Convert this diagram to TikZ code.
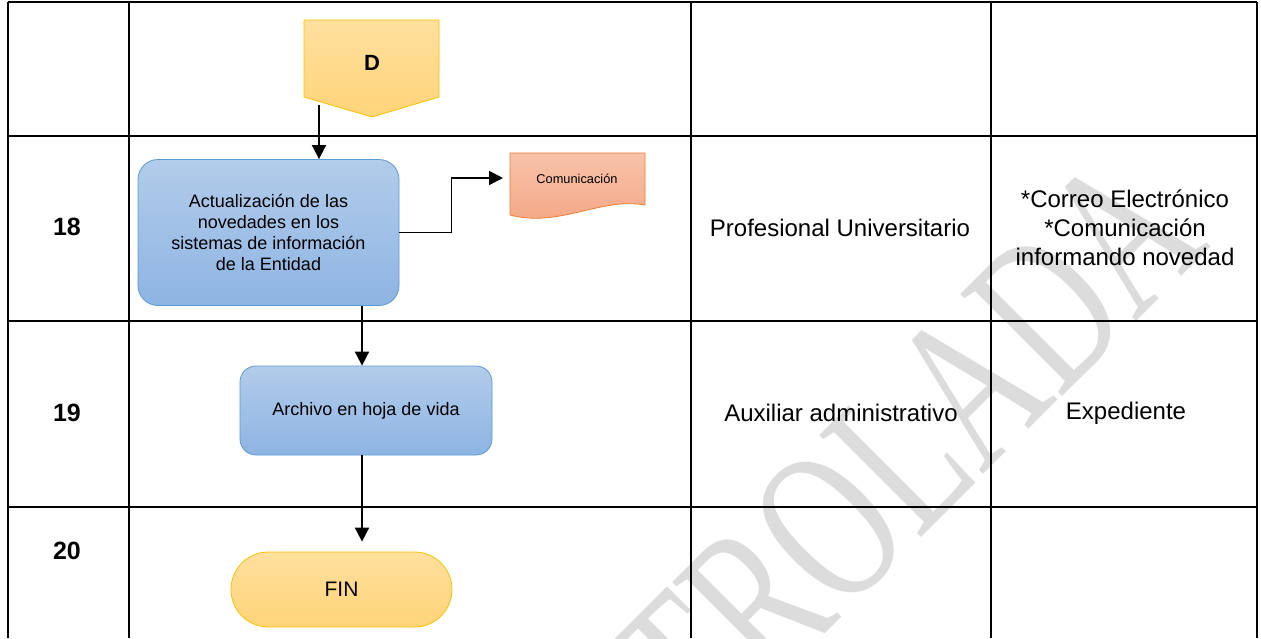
\documentclass[tikz,border=0pt]{standalone}
\usepackage{fontspec}
\setmainfont{Liberation Sans}
\newfontfamily\wmfont{Liberation Serif}
\usetikzlibrary{arrows.meta,calc}

\definecolor{boxtop}{HTML}{B2CCEA}
\definecolor{boxbot}{HTML}{8EB4E3}
\definecolor{boxline}{HTML}{5B9BD5}
\definecolor{termtop}{HTML}{FFE09E}
\definecolor{termbot}{HTML}{FFD479}
\definecolor{termline}{HTML}{FFC000}
\definecolor{doctop}{HTML}{F8C3AA}
\definecolor{docbot}{HTML}{F4A683}
\definecolor{docline}{HTML}{ED7D31}
\definecolor{wmgray}{RGB}{220,220,220}

\begin{document}
\begin{tikzpicture}[
		x=0.5pt, y=-0.5pt,
		>={Triangle[length=7pt,width=7pt]},
		grid/.style={line width=1.1pt},
		flow/.style={->,line width=0.9pt},
		proc/.style={draw=boxline,top color=boxtop,bottom color=boxbot,rounded corners=10pt,align=center,font=\fontsize{9}{10.5}\selectfont},
		term/.style={draw=termline,top color=termtop,bottom color=termbot},
		num/.style={font=\fontsize{12.5}{15}\selectfont\bfseries},
		cell/.style={align=center,font=\fontsize{12}{14.6}\selectfont}
	]
	\useasboundingbox (0,0) rectangle (1261,638);

	% Watermark
	\begin{scope}
		\clip (0,0) rectangle (1261,638);
		\begin{scope}[shift={(797,560)},rotate=45,xscale=0.68]
			\node[transform shape,text=wmgray,font=\wmfont\fontsize{110}{110}\selectfont] (marca) at (0,0) {CONTROLADA};
		\end{scope}
	\end{scope}

	% Table
	\foreach \x in {8,129,691,991,1257}
		\draw[grid] (\x,2) -- (\x,638);
	\foreach \y in {2,136,321,507}
		\draw[grid] (8,\y) -- (1257,\y);

	% Step numbers
	\node[num] (n18) at (67,227) {18};
	\node[num] (n19) at (67,413) {19};
	\node[num] (n20) at (67,551) {20};

	% Shapes
	\draw[term] (304,20) -- (439,20) -- (439,97) -- (372,117) -- (304,97) -- cycle;
	\node[font=\fontsize{11}{13}\selectfont\bfseries] (conD) at (372,63) {D};
	\node[proc,minimum width=130.5pt,minimum height=73pt] (act) at (268.5,232.5) {Actualización de las\\novedades en los\\sistemas de información\\de la Entidad};
	\node[proc,minimum width=126pt,minimum height=44.5pt,rounded corners=8pt] (arch) at (366,410.5) {Archivo en hoja de vida};
	\node[term,rounded corners=18.7pt,minimum width=110.5pt,minimum height=37.5pt,font=\fontsize{10.5}{12}\selectfont] (fin) at (341.5,589.5) {FIN};
	\draw[draw=docline,top color=doctop,bottom color=docbot] (510,153) -- (645,153) -- (645,205) .. controls (600,197) and (560,228) .. (510,215) -- cycle;
	\node[font=\fontsize{6.4}{8}\selectfont] (com) at (577,179) {Comunicación};

	% Connectors
	\coordinate (dout) at (319,105);
	\draw[flow] (dout) -- (dout |- act.north);
	\coordinate (comin) at (503,178);
	\draw[flow] (act.east) -- ++(52,0) |- (comin);
	\coordinate (bajada) at (362,0);
	\draw[flow] (bajada |- act.south) -- (bajada |- arch.north);
	\draw[flow] (bajada |- arch.south) -- ($(bajada |- fin.north)+(0,-10)$);

	% Responsible and records
	\node[cell] (resp18) at (840,228) {Profesional Universitario};
	\node[cell] (reg18) at (1125,228) {*Correo Electrónico\\*Comunicación\\informando novedad};
	\node[cell] (resp19) at (841,413) {Auxiliar administrativo};
	\node[cell] (reg19) at (1126,413) {Expediente};
\end{tikzpicture}
\end{document}
